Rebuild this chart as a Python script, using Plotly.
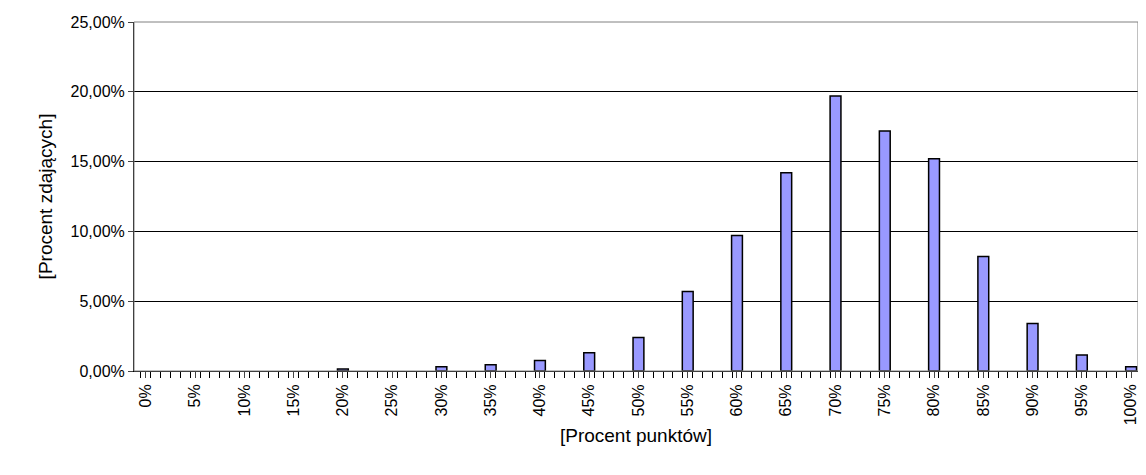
import plotly.graph_objects as go

x_pct = [20, 30, 35, 40, 45, 50, 55, 60, 65, 70, 75, 80, 85, 90, 95, 100]
y_val = [0.15, 0.3, 0.45, 0.75, 1.3, 2.4, 5.7, 9.7, 14.2, 19.7, 17.2, 15.2, 8.2, 3.4, 1.15, 0.3]
tick_vals = list(range(0, 101, 5))
tick_text = [f"{v}%" for v in tick_vals]
y_ticks = [0, 5, 10, 15, 20, 25]
y_text = ["0,00%", "5,00%", "10,00%", "15,00%", "20,00%", "25,00%"]

fig = go.Figure(go.Bar(x=x_pct, y=y_val, width=1.1, marker=dict(color="#9999ff", line=dict(color="black", width=1.5))))
fig.update_layout(
    width=1146, height=475, plot_bgcolor="white", paper_bgcolor="white",
    margin=dict(l=126, r=16, t=14, b=112), showlegend=False,
    font=dict(family="Liberation Sans, Arial", size=16, color="black"),
)
fig.update_xaxes(range=[-1.2, 100.7], tickvals=tick_vals, ticktext=tick_text, tickangle=-90,
                 tickfont=dict(size=16), automargin=False,
                 showline=True, linecolor="black", linewidth=1, ticks="outside", ticklen=6,
                 minor=dict(tickvals=[i + 0.5 for i in range(-1, 100)], ticks="outside", ticklen=6, tickcolor="black"),
                 showgrid=False, title=dict(text="[Procent punktów]", standoff=4), mirror=False)
fig.update_yaxes(range=[0, 25], tickvals=y_ticks, ticktext=y_text, showgrid=True, gridcolor="black", gridwidth=1,
                 tickfont=dict(size=16), automargin=False,
                 showline=True, linecolor="black", ticks="outside", ticklen=5, zeroline=False,
                 title=dict(text="[Procent zdających]", standoff=12))
fig.add_shape(type="rect", xref="paper", yref="paper", x0=0, x1=1, y0=0, y1=1, line=dict(color="gray", width=1))
fig.write_html("out.html")
